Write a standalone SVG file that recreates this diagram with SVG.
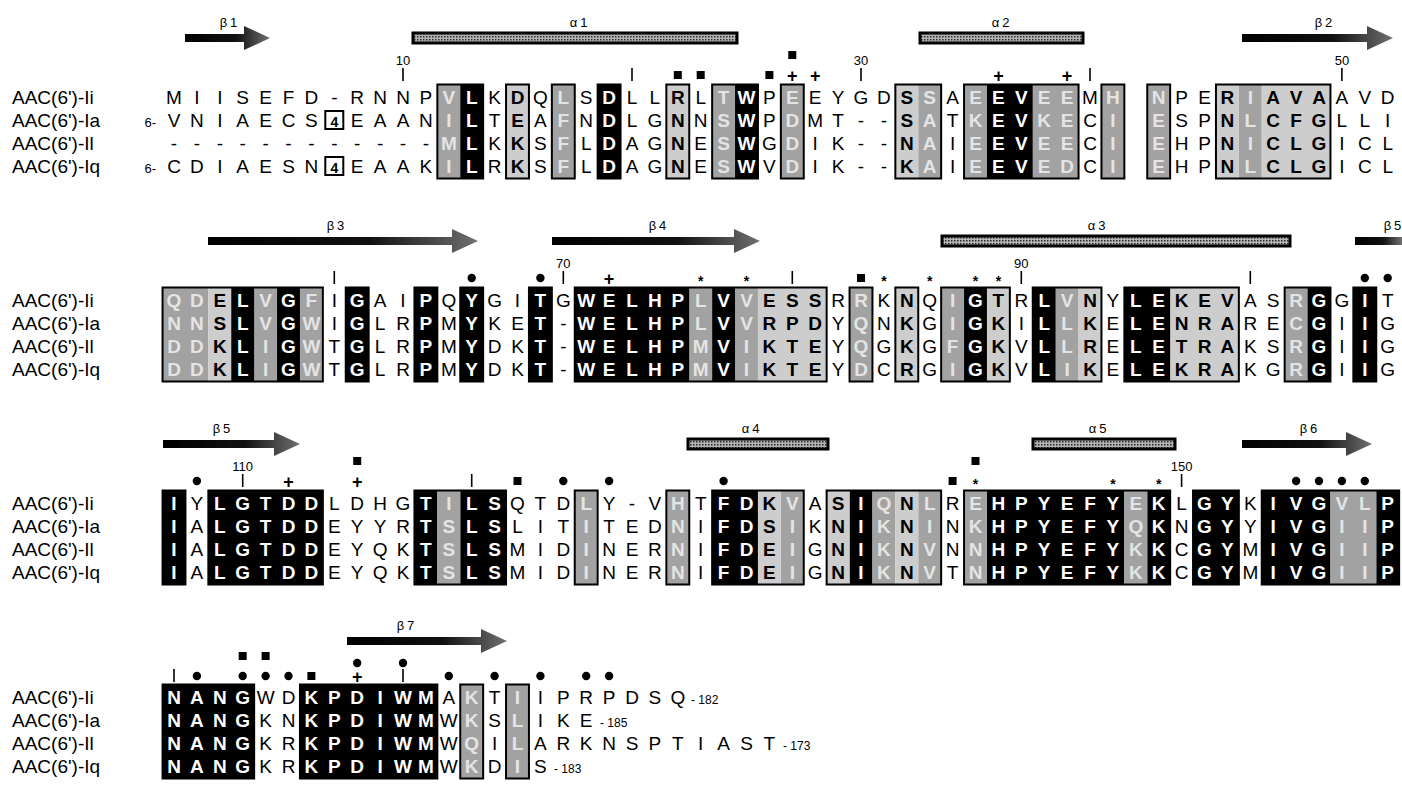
<svg xmlns="http://www.w3.org/2000/svg" width="1402" height="787" viewBox="0 0 1402 787">
<defs>
<linearGradient id="ag" x1="0" y1="0" x2="1" y2="0"><stop offset="0" stop-color="#000"/><stop offset="0.6" stop-color="#111"/><stop offset="1" stop-color="#707070"/></linearGradient>
<pattern id="hx" width="3" height="3" patternUnits="userSpaceOnUse"><rect width="3" height="3" fill="#b4b4b4"/><rect width="1.5" height="1.5" fill="#2a2a2a"/></pattern>
</defs>
<style>
text{font-family:"Liberation Sans",Arial,Helvetica,sans-serif;fill:#000}
.lab{font-size:19px}
.r{font-size:19px;text-anchor:middle}
.b{font-weight:bold}
.w{font-weight:bold;fill:#fff}
.f{font-weight:bold;fill:#e4e4e4}
.n4{font-weight:bold;font-size:14px}
.k{fill:#000}
.l{fill:#cdcdcd}
.d{fill:#a2a2a2}
.o{fill:none;stroke:#000;stroke-width:2}
.bx{fill:#fff;stroke:#000;stroke-width:2}
.ss{font-size:13px;text-anchor:middle;letter-spacing:3px}
.num{font-size:13px;text-anchor:middle}
.tk{stroke:#000;stroke-width:1.6}
.hx{fill:url(#hx);stroke:#000;stroke-width:3}
.ar{fill:url(#ag)}
.pl{font-size:18px;font-weight:bold;text-anchor:middle}
.st{font-size:14px;font-weight:bold;text-anchor:middle}
.end{font-size:12px}
.sm{font-size:13px;text-anchor:end}
</style>
<rect width="1402" height="787" fill="#fff"/>

<g id="block1">
<g id="b1-ss">
<path class="ar" d="M185 34 L244 34 L244 26 L270 38 L244 50 L244 42 L185 42 Z"/>
<rect class="hx" x="413" y="33" width="324" height="10"/>
<rect class="hx" x="920" y="33" width="163" height="10"/>
<path class="ar" d="M1242 34 L1367 34 L1367 26 L1393 38 L1367 50 L1367 42 L1242 42 Z"/>
<text class="ss" x="230" y="27">β1</text>
<text class="ss" x="580" y="27">α1</text>
<text class="ss" x="1002" y="27">α2</text>
<text class="ss" x="1325" y="27">β2</text>
</g>
<g id="b1-boxes">
<rect class="d" x="437.35" y="84.5" width="22.9" height="94"/>
<rect class="d" x="551.85" y="84.5" width="22.9" height="94"/>
<rect class="d" x="712.15" y="84.5" width="22.9" height="94"/>
<rect class="d" x="780.85" y="84.5" width="22.9" height="94"/>
<rect class="d" x="918.25" y="84.5" width="22.9" height="94"/>
<rect class="d" x="964.05" y="84.5" width="22.9" height="94"/>
<rect class="d" x="1032.75" y="84.5" width="45.8" height="94"/>
<rect class="d" x="1101.45" y="84.5" width="22.9" height="94"/>
<rect class="d" x="1147.25" y="84.5" width="22.9" height="94"/>
<rect class="d" x="1238.85" y="84.5" width="22.9" height="94"/>
<rect class="l" x="506.05" y="84.5" width="22.9" height="94"/>
<rect class="l" x="666.35" y="84.5" width="22.9" height="94"/>
<rect class="l" x="895.35" y="84.5" width="22.9" height="94"/>
<rect class="l" x="1215.95" y="84.5" width="22.9" height="94"/>
<rect class="l" x="1261.75" y="84.5" width="68.7" height="94"/>
<rect class="k" x="460.25" y="84.5" width="22.9" height="94"/>
<rect class="k" x="597.65" y="84.5" width="22.9" height="94"/>
<rect class="k" x="735.05" y="84.5" width="22.9" height="94"/>
<rect class="k" x="986.95" y="84.5" width="45.8" height="94"/>
<rect class="o" x="437.35" y="84.5" width="45.8" height="94"/>
<rect class="o" x="506.05" y="84.5" width="22.9" height="94"/>
<rect class="o" x="551.85" y="84.5" width="22.9" height="94"/>
<rect class="o" x="597.65" y="84.5" width="22.9" height="94"/>
<rect class="o" x="666.35" y="84.5" width="22.9" height="94"/>
<rect class="o" x="712.15" y="84.5" width="45.8" height="94"/>
<rect class="o" x="780.85" y="84.5" width="22.9" height="94"/>
<rect class="o" x="895.35" y="84.5" width="45.8" height="94"/>
<rect class="o" x="964.05" y="84.5" width="114.5" height="94"/>
<rect class="o" x="1101.45" y="84.5" width="22.9" height="94"/>
<rect class="o" x="1147.25" y="84.5" width="22.9" height="94"/>
<rect class="o" x="1215.95" y="84.5" width="114.5" height="94"/>
<rect class="bx" x="325.3" y="111" width="18" height="18"/>
<rect class="bx" x="325.3" y="157" width="18" height="18"/>
</g>
<g id="b1-marks">
<text class="num" x="403" y="65">10</text>
<text class="num" x="861" y="65">30</text>
<text class="num" x="1341.9" y="65">50</text>
<line class="tk" x1="403" y1="68" x2="403" y2="81"/>
<line class="tk" x1="632" y1="68" x2="632" y2="81"/>
<line class="tk" x1="861" y1="68" x2="861" y2="81"/>
<line class="tk" x1="1090" y1="68" x2="1090" y2="81"/>
<line class="tk" x1="1341.9" y1="68" x2="1341.9" y2="81"/>
<rect x="673.8" y="71" width="8" height="8"/>
<rect x="696.7" y="71" width="8" height="8"/>
<rect x="765.4" y="71" width="8" height="8"/>
<rect x="788.3" y="51" width="8" height="8"/>
<text class="pl" x="792.3" y="81.5">+</text>
<text class="pl" x="815.2" y="81.5">+</text>
<text class="pl" x="998.4" y="81.5">+</text>
<text class="pl" x="1067.1" y="81.5">+</text>
</g>
<g id="b1-seq">
<text class="lab" x="12" y="103.8">AAC(6')-Ii</text>
<text class="lab" x="12" y="126.8">AAC(6')-Ia</text>
<text class="lab" x="12" y="149.8">AAC(6')-Il</text>
<text class="lab" x="12" y="172.8">AAC(6')-Iq</text>
<text class="sm" x="156" y="126.8">6-</text>
<text class="sm" x="156" y="172.8">6-</text>
<text class="r" y="103.8" x="174 196.9 219.8 242.7 265.6 288.5 311.4 334.3 357.2 380.1 403 425.9 448.8 471.7 494.6 517.5 540.4 563.3 586.2 609.1 632 654.9 677.8 700.7 723.6 746.5 769.4 792.3 815.2 838.1 861 883.9 906.8 929.7 952.6 975.5 998.4 1021.3 1044.2 1067.1 1090 1112.9 1158.7 1181.6 1204.5 1227.4 1250.3 1273.2 1296.1 1319 1341.9 1364.8 1387.7">MIISEFD-RNNP<tspan class="f">V</tspan><tspan class="w">L</tspan>K<tspan class="b">D</tspan>Q<tspan class="f">L</tspan>S<tspan class="w">D</tspan>LL<tspan class="b">R</tspan>L<tspan class="f">T</tspan><tspan class="w">W</tspan>P<tspan class="f">E</tspan>EYGD<tspan class="b">S</tspan><tspan class="f">S</tspan>A<tspan class="f">E</tspan><tspan class="w">EV</tspan><tspan class="f">EE</tspan>M<tspan class="f">HN</tspan>PE<tspan class="b">R</tspan><tspan class="f">I</tspan><tspan class="b">AVA</tspan>AVD</text>
<text class="r" y="126.8" x="174 196.9 219.8 242.7 265.6 288.5 311.4 334.3 357.2 380.1 403 425.9 448.8 471.7 494.6 517.5 540.4 563.3 586.2 609.1 632 654.9 677.8 700.7 723.6 746.5 769.4 792.3 815.2 838.1 861 883.9 906.8 929.7 952.6 975.5 998.4 1021.3 1044.2 1067.1 1090 1112.9 1158.7 1181.6 1204.5 1227.4 1250.3 1273.2 1296.1 1319 1341.9 1364.8 1387.7">VNIAECS<tspan class="n4">4</tspan>EAAN<tspan class="f">I</tspan><tspan class="w">L</tspan>T<tspan class="b">E</tspan>A<tspan class="f">F</tspan>N<tspan class="w">D</tspan>LG<tspan class="b">N</tspan>N<tspan class="f">S</tspan><tspan class="w">W</tspan>P<tspan class="f">D</tspan>MT--<tspan class="b">S</tspan><tspan class="f">A</tspan>T<tspan class="f">K</tspan><tspan class="w">EV</tspan><tspan class="f">KE</tspan>C<tspan class="f">IE</tspan>SP<tspan class="b">N</tspan><tspan class="f">L</tspan><tspan class="b">CFG</tspan>LLI</text>
<text class="r" y="149.8" x="174 196.9 219.8 242.7 265.6 288.5 311.4 334.3 357.2 380.1 403 425.9 448.8 471.7 494.6 517.5 540.4 563.3 586.2 609.1 632 654.9 677.8 700.7 723.6 746.5 769.4 792.3 815.2 838.1 861 883.9 906.8 929.7 952.6 975.5 998.4 1021.3 1044.2 1067.1 1090 1112.9 1158.7 1181.6 1204.5 1227.4 1250.3 1273.2 1296.1 1319 1341.9 1364.8 1387.7">------------<tspan class="f">M</tspan><tspan class="w">L</tspan>K<tspan class="b">K</tspan>S<tspan class="f">F</tspan>L<tspan class="w">D</tspan>AG<tspan class="b">N</tspan>E<tspan class="f">S</tspan><tspan class="w">W</tspan>G<tspan class="f">D</tspan>IK--<tspan class="b">N</tspan><tspan class="f">A</tspan>I<tspan class="f">E</tspan><tspan class="w">EV</tspan><tspan class="f">EE</tspan>C<tspan class="f">IE</tspan>HP<tspan class="b">N</tspan><tspan class="f">I</tspan><tspan class="b">CLG</tspan>ICL</text>
<text class="r" y="172.8" x="174 196.9 219.8 242.7 265.6 288.5 311.4 334.3 357.2 380.1 403 425.9 448.8 471.7 494.6 517.5 540.4 563.3 586.2 609.1 632 654.9 677.8 700.7 723.6 746.5 769.4 792.3 815.2 838.1 861 883.9 906.8 929.7 952.6 975.5 998.4 1021.3 1044.2 1067.1 1090 1112.9 1158.7 1181.6 1204.5 1227.4 1250.3 1273.2 1296.1 1319 1341.9 1364.8 1387.7">CDIAESN<tspan class="n4">4</tspan>EAAK<tspan class="f">I</tspan><tspan class="w">L</tspan>R<tspan class="b">K</tspan>S<tspan class="f">F</tspan>L<tspan class="w">D</tspan>AG<tspan class="b">N</tspan>E<tspan class="f">S</tspan><tspan class="w">W</tspan>V<tspan class="f">D</tspan>IK--<tspan class="b">K</tspan><tspan class="f">A</tspan>I<tspan class="f">E</tspan><tspan class="w">EV</tspan><tspan class="f">ED</tspan>C<tspan class="f">IE</tspan>HP<tspan class="b">N</tspan><tspan class="f">L</tspan><tspan class="b">CLG</tspan>ICL</text>
</g>
</g>

<g id="block2">
<g id="b2-ss">
<path class="ar" d="M208 237 L452 237 L452 229 L478 241 L452 253 L452 245 L208 245 Z"/>
<path class="ar" d="M552 237 L734 237 L734 229 L760 241 L734 253 L734 245 L552 245 Z"/>
<rect class="hx" x="942" y="236" width="348" height="10"/>
<rect class="ar" x="1355" y="237" width="47" height="8"/>
<text class="ss" x="337" y="230">β3</text>
<text class="ss" x="659" y="230">β4</text>
<text class="ss" x="1098" y="230">α3</text>
<text class="ss" x="1394" y="230">β5</text>
</g>
<g id="b2-boxes">
<rect class="d" x="162.55" y="287.5" width="45.8" height="94"/>
<rect class="d" x="254.15" y="287.5" width="22.9" height="94"/>
<rect class="d" x="299.95" y="287.5" width="22.9" height="94"/>
<rect class="d" x="689.25" y="287.5" width="22.9" height="94"/>
<rect class="d" x="735.05" y="287.5" width="22.9" height="94"/>
<rect class="d" x="849.55" y="287.5" width="22.9" height="94"/>
<rect class="d" x="941.15" y="287.5" width="22.9" height="94"/>
<rect class="d" x="1055.65" y="287.5" width="22.9" height="94"/>
<rect class="d" x="1284.65" y="287.5" width="22.9" height="94"/>
<rect class="l" x="208.35" y="287.5" width="22.9" height="94"/>
<rect class="l" x="757.95" y="287.5" width="68.7" height="94"/>
<rect class="l" x="895.35" y="287.5" width="22.9" height="94"/>
<rect class="l" x="986.95" y="287.5" width="22.9" height="94"/>
<rect class="l" x="1078.55" y="287.5" width="22.9" height="94"/>
<rect class="l" x="1170.15" y="287.5" width="68.7" height="94"/>
<rect class="k" x="231.25" y="287.5" width="22.9" height="94"/>
<rect class="k" x="277.05" y="287.5" width="22.9" height="94"/>
<rect class="k" x="345.75" y="287.5" width="22.9" height="94"/>
<rect class="k" x="414.45" y="287.5" width="22.9" height="94"/>
<rect class="k" x="460.25" y="287.5" width="22.9" height="94"/>
<rect class="k" x="528.95" y="287.5" width="22.9" height="94"/>
<rect class="k" x="574.75" y="287.5" width="114.5" height="94"/>
<rect class="k" x="712.15" y="287.5" width="22.9" height="94"/>
<rect class="k" x="964.05" y="287.5" width="22.9" height="94"/>
<rect class="k" x="1032.75" y="287.5" width="22.9" height="94"/>
<rect class="k" x="1124.35" y="287.5" width="45.8" height="94"/>
<rect class="k" x="1307.55" y="287.5" width="22.9" height="94"/>
<rect class="k" x="1353.35" y="287.5" width="22.9" height="94"/>
<rect class="o" x="162.55" y="287.5" width="160.3" height="94"/>
<rect class="o" x="345.75" y="287.5" width="22.9" height="94"/>
<rect class="o" x="414.45" y="287.5" width="22.9" height="94"/>
<rect class="o" x="460.25" y="287.5" width="22.9" height="94"/>
<rect class="o" x="528.95" y="287.5" width="22.9" height="94"/>
<rect class="o" x="574.75" y="287.5" width="251.9" height="94"/>
<rect class="o" x="849.55" y="287.5" width="22.9" height="94"/>
<rect class="o" x="895.35" y="287.5" width="22.9" height="94"/>
<rect class="o" x="941.15" y="287.5" width="68.7" height="94"/>
<rect class="o" x="1032.75" y="287.5" width="68.7" height="94"/>
<rect class="o" x="1124.35" y="287.5" width="114.5" height="94"/>
<rect class="o" x="1284.65" y="287.5" width="45.8" height="94"/>
<rect class="o" x="1353.35" y="287.5" width="22.9" height="94"/>
</g>
<g id="b2-marks">
<text class="num" x="563.3" y="268">70</text>
<text class="num" x="1021.3" y="268">90</text>
<line class="tk" x1="334.3" y1="271" x2="334.3" y2="284"/>
<line class="tk" x1="563.3" y1="271" x2="563.3" y2="284"/>
<line class="tk" x1="792.3" y1="271" x2="792.3" y2="284"/>
<line class="tk" x1="1021.3" y1="271" x2="1021.3" y2="284"/>
<line class="tk" x1="1250.3" y1="271" x2="1250.3" y2="284"/>
<circle cx="471.7" cy="278" r="4.2"/>
<circle cx="540.4" cy="278" r="4.2"/>
<circle cx="1364.8" cy="278" r="4.2"/>
<circle cx="1387.7" cy="278" r="4.2"/>
<text class="pl" x="609.1" y="284.5">+</text>
<text class="st" x="700.7" y="286">*</text>
<text class="st" x="746.5" y="286">*</text>
<text class="st" x="883.9" y="286">*</text>
<text class="st" x="929.7" y="286">*</text>
<text class="st" x="975.5" y="286">*</text>
<text class="st" x="998.4" y="286">*</text>
<rect x="857" y="274" width="8" height="8"/>
</g>
<g id="b2-seq">
<text class="lab" x="12" y="306.8">AAC(6')-Ii</text>
<text class="lab" x="12" y="329.8">AAC(6')-Ia</text>
<text class="lab" x="12" y="352.8">AAC(6')-Il</text>
<text class="lab" x="12" y="375.8">AAC(6')-Iq</text>
<text class="r" y="306.8" x="174 196.9 219.8 242.7 265.6 288.5 311.4 334.3 357.2 380.1 403 425.9 448.8 471.7 494.6 517.5 540.4 563.3 586.2 609.1 632 654.9 677.8 700.7 723.6 746.5 769.4 792.3 815.2 838.1 861 883.9 906.8 929.7 952.6 975.5 998.4 1021.3 1044.2 1067.1 1090 1112.9 1135.8 1158.7 1181.6 1204.5 1227.4 1250.3 1273.2 1296.1 1319 1341.9 1364.8 1387.7"><tspan class="f">QD</tspan><tspan class="b">E</tspan><tspan class="w">L</tspan><tspan class="f">V</tspan><tspan class="w">G</tspan><tspan class="f">F</tspan>I<tspan class="w">G</tspan>AI<tspan class="w">P</tspan>Q<tspan class="w">Y</tspan>GI<tspan class="w">T</tspan>G<tspan class="w">WELHP</tspan><tspan class="f">L</tspan><tspan class="w">V</tspan><tspan class="f">V</tspan><tspan class="b">ESS</tspan>R<tspan class="f">R</tspan>K<tspan class="b">N</tspan>Q<tspan class="f">I</tspan><tspan class="w">G</tspan><tspan class="b">T</tspan>R<tspan class="w">L</tspan><tspan class="f">V</tspan><tspan class="b">N</tspan>Y<tspan class="w">LE</tspan><tspan class="b">KEV</tspan>AS<tspan class="f">R</tspan><tspan class="w">G</tspan>G<tspan class="w">I</tspan>T</text>
<text class="r" y="329.8" x="174 196.9 219.8 242.7 265.6 288.5 311.4 334.3 357.2 380.1 403 425.9 448.8 471.7 494.6 517.5 540.4 563.3 586.2 609.1 632 654.9 677.8 700.7 723.6 746.5 769.4 792.3 815.2 838.1 861 883.9 906.8 929.7 952.6 975.5 998.4 1021.3 1044.2 1067.1 1090 1112.9 1135.8 1158.7 1181.6 1204.5 1227.4 1250.3 1273.2 1296.1 1319 1341.9 1364.8 1387.7"><tspan class="f">NN</tspan><tspan class="b">S</tspan><tspan class="w">L</tspan><tspan class="f">V</tspan><tspan class="w">G</tspan><tspan class="f">W</tspan>I<tspan class="w">G</tspan>LR<tspan class="w">P</tspan>M<tspan class="w">Y</tspan>KE<tspan class="w">T</tspan>-<tspan class="w">WELHP</tspan><tspan class="f">L</tspan><tspan class="w">V</tspan><tspan class="f">V</tspan><tspan class="b">RPD</tspan>Y<tspan class="f">Q</tspan>N<tspan class="b">K</tspan>G<tspan class="f">I</tspan><tspan class="w">G</tspan><tspan class="b">K</tspan>I<tspan class="w">L</tspan><tspan class="f">L</tspan><tspan class="b">K</tspan>E<tspan class="w">LE</tspan><tspan class="b">NRA</tspan>RE<tspan class="f">C</tspan><tspan class="w">G</tspan>I<tspan class="w">I</tspan>G</text>
<text class="r" y="352.8" x="174 196.9 219.8 242.7 265.6 288.5 311.4 334.3 357.2 380.1 403 425.9 448.8 471.7 494.6 517.5 540.4 563.3 586.2 609.1 632 654.9 677.8 700.7 723.6 746.5 769.4 792.3 815.2 838.1 861 883.9 906.8 929.7 952.6 975.5 998.4 1021.3 1044.2 1067.1 1090 1112.9 1135.8 1158.7 1181.6 1204.5 1227.4 1250.3 1273.2 1296.1 1319 1341.9 1364.8 1387.7"><tspan class="f">DD</tspan><tspan class="b">K</tspan><tspan class="w">L</tspan><tspan class="f">I</tspan><tspan class="w">G</tspan><tspan class="f">W</tspan>T<tspan class="w">G</tspan>LR<tspan class="w">P</tspan>M<tspan class="w">Y</tspan>DK<tspan class="w">T</tspan>-<tspan class="w">WELHP</tspan><tspan class="f">M</tspan><tspan class="w">V</tspan><tspan class="f">I</tspan><tspan class="b">KTE</tspan>Y<tspan class="f">Q</tspan>G<tspan class="b">K</tspan>G<tspan class="f">F</tspan><tspan class="w">G</tspan><tspan class="b">K</tspan>V<tspan class="w">L</tspan><tspan class="f">L</tspan><tspan class="b">R</tspan>E<tspan class="w">LE</tspan><tspan class="b">TRA</tspan>KS<tspan class="f">R</tspan><tspan class="w">G</tspan>I<tspan class="w">I</tspan>G</text>
<text class="r" y="375.8" x="174 196.9 219.8 242.7 265.6 288.5 311.4 334.3 357.2 380.1 403 425.9 448.8 471.7 494.6 517.5 540.4 563.3 586.2 609.1 632 654.9 677.8 700.7 723.6 746.5 769.4 792.3 815.2 838.1 861 883.9 906.8 929.7 952.6 975.5 998.4 1021.3 1044.2 1067.1 1090 1112.9 1135.8 1158.7 1181.6 1204.5 1227.4 1250.3 1273.2 1296.1 1319 1341.9 1364.8 1387.7"><tspan class="f">DD</tspan><tspan class="b">K</tspan><tspan class="w">L</tspan><tspan class="f">I</tspan><tspan class="w">G</tspan><tspan class="f">W</tspan>T<tspan class="w">G</tspan>LR<tspan class="w">P</tspan>M<tspan class="w">Y</tspan>DK<tspan class="w">T</tspan>-<tspan class="w">WELHP</tspan><tspan class="f">M</tspan><tspan class="w">V</tspan><tspan class="f">I</tspan><tspan class="b">KTE</tspan>Y<tspan class="f">D</tspan>C<tspan class="b">R</tspan>G<tspan class="f">I</tspan><tspan class="w">G</tspan><tspan class="b">K</tspan>V<tspan class="w">L</tspan><tspan class="f">I</tspan><tspan class="b">K</tspan>E<tspan class="w">LE</tspan><tspan class="b">KRA</tspan>KG<tspan class="f">R</tspan><tspan class="w">G</tspan>I<tspan class="w">I</tspan>G</text>
</g>
</g>

<g id="block3">
<g id="b3-ss">
<path class="ar" d="M163 440 L274 440 L274 432 L300 444 L274 456 L274 448 L163 448 Z"/>
<rect class="hx" x="688" y="439" width="140" height="10"/>
<rect class="hx" x="1033" y="439" width="142" height="10"/>
<path class="ar" d="M1242 440 L1346 440 L1346 432 L1372 444 L1346 456 L1346 448 L1242 448 Z"/>
<text class="ss" x="223" y="433">β5</text>
<text class="ss" x="752" y="433">α4</text>
<text class="ss" x="1099" y="433">α5</text>
<text class="ss" x="1310" y="433">β6</text>
</g>
<g id="b3-boxes">
<rect class="k" x="162.55" y="490.5" width="22.9" height="94"/>
<rect class="k" x="208.35" y="490.5" width="114.5" height="94"/>
<rect class="k" x="414.45" y="490.5" width="22.9" height="94"/>
<rect class="k" x="460.25" y="490.5" width="45.8" height="94"/>
<rect class="k" x="712.15" y="490.5" width="45.8" height="94"/>
<rect class="k" x="849.55" y="490.5" width="22.9" height="94"/>
<rect class="k" x="986.95" y="490.5" width="137.4" height="94"/>
<rect class="k" x="1147.25" y="490.5" width="22.9" height="94"/>
<rect class="k" x="1193.05" y="490.5" width="45.8" height="94"/>
<rect class="k" x="1261.75" y="490.5" width="68.7" height="94"/>
<rect class="k" x="1376.25" y="490.5" width="22.9" height="94"/>
<rect class="d" x="437.35" y="490.5" width="22.9" height="94"/>
<rect class="d" x="574.75" y="490.5" width="22.9" height="94"/>
<rect class="d" x="666.35" y="490.5" width="22.9" height="94"/>
<rect class="d" x="780.85" y="490.5" width="22.9" height="94"/>
<rect class="d" x="872.45" y="490.5" width="22.9" height="94"/>
<rect class="d" x="918.25" y="490.5" width="22.9" height="94"/>
<rect class="d" x="964.05" y="490.5" width="22.9" height="94"/>
<rect class="d" x="1124.35" y="490.5" width="22.9" height="94"/>
<rect class="d" x="1330.45" y="490.5" width="45.8" height="94"/>
<rect class="l" x="757.95" y="490.5" width="22.9" height="94"/>
<rect class="l" x="826.65" y="490.5" width="22.9" height="94"/>
<rect class="l" x="895.35" y="490.5" width="22.9" height="94"/>
<rect class="o" x="162.55" y="490.5" width="22.9" height="94"/>
<rect class="o" x="208.35" y="490.5" width="114.5" height="94"/>
<rect class="o" x="414.45" y="490.5" width="91.6" height="94"/>
<rect class="o" x="574.75" y="490.5" width="22.9" height="94"/>
<rect class="o" x="666.35" y="490.5" width="22.9" height="94"/>
<rect class="o" x="712.15" y="490.5" width="91.6" height="94"/>
<rect class="o" x="826.65" y="490.5" width="114.5" height="94"/>
<rect class="o" x="964.05" y="490.5" width="206.1" height="94"/>
<rect class="o" x="1193.05" y="490.5" width="45.8" height="94"/>
<rect class="o" x="1261.75" y="490.5" width="137.4" height="94"/>
</g>
<g id="b3-marks">
<text class="num" x="242.7" y="471">110</text>
<text class="num" x="1181.6" y="471">150</text>
<line class="tk" x1="242.7" y1="474" x2="242.7" y2="487"/>
<line class="tk" x1="471.7" y1="474" x2="471.7" y2="487"/>
<line class="tk" x1="1181.6" y1="474" x2="1181.6" y2="487"/>
<circle cx="196.9" cy="481" r="4.2"/>
<circle cx="563.3" cy="481" r="4.2"/>
<circle cx="609.1" cy="481" r="4.2"/>
<circle cx="723.6" cy="481" r="4.2"/>
<circle cx="1296.1" cy="481" r="4.2"/>
<circle cx="1319" cy="481" r="4.2"/>
<circle cx="1341.9" cy="481" r="4.2"/>
<circle cx="1364.8" cy="481" r="4.2"/>
<text class="pl" x="288.5" y="487.5">+</text>
<text class="pl" x="357.2" y="487.5">+</text>
<rect x="513.5" y="477" width="8" height="8"/>
<rect x="948.6" y="477" width="8" height="8"/>
<rect x="353.2" y="457" width="8" height="8"/>
<rect x="971.5" y="457" width="8" height="8"/>
<text class="st" x="975.5" y="489">*</text>
<text class="st" x="1112.9" y="489">*</text>
<text class="st" x="1158.7" y="489">*</text>
</g>
<g id="b3-seq">
<text class="lab" x="12" y="509.8">AAC(6')-Ii</text>
<text class="lab" x="12" y="532.8">AAC(6')-Ia</text>
<text class="lab" x="12" y="555.8">AAC(6')-Il</text>
<text class="lab" x="12" y="578.8">AAC(6')-Iq</text>
<text class="r" y="509.8" x="174 196.9 219.8 242.7 265.6 288.5 311.4 334.3 357.2 380.1 403 425.9 448.8 471.7 494.6 517.5 540.4 563.3 586.2 609.1 632 654.9 677.8 700.7 723.6 746.5 769.4 792.3 815.2 838.1 861 883.9 906.8 929.7 952.6 975.5 998.4 1021.3 1044.2 1067.1 1090 1112.9 1135.8 1158.7 1181.6 1204.5 1227.4 1250.3 1273.2 1296.1 1319 1341.9 1364.8 1387.7"><tspan class="w">I</tspan>Y<tspan class="w">LGTDD</tspan>LDHG<tspan class="w">T</tspan><tspan class="f">I</tspan><tspan class="w">LS</tspan>QTD<tspan class="f">L</tspan>Y-V<tspan class="f">H</tspan>T<tspan class="w">FD</tspan><tspan class="b">K</tspan><tspan class="f">V</tspan>A<tspan class="b">S</tspan><tspan class="w">I</tspan><tspan class="f">Q</tspan><tspan class="b">N</tspan><tspan class="f">L</tspan>R<tspan class="f">E</tspan><tspan class="w">HPYEFY</tspan><tspan class="f">E</tspan><tspan class="w">K</tspan>L<tspan class="w">GY</tspan>K<tspan class="w">IVG</tspan><tspan class="f">VL</tspan><tspan class="w">P</tspan></text>
<text class="r" y="532.8" x="174 196.9 219.8 242.7 265.6 288.5 311.4 334.3 357.2 380.1 403 425.9 448.8 471.7 494.6 517.5 540.4 563.3 586.2 609.1 632 654.9 677.8 700.7 723.6 746.5 769.4 792.3 815.2 838.1 861 883.9 906.8 929.7 952.6 975.5 998.4 1021.3 1044.2 1067.1 1090 1112.9 1135.8 1158.7 1181.6 1204.5 1227.4 1250.3 1273.2 1296.1 1319 1341.9 1364.8 1387.7"><tspan class="w">I</tspan>A<tspan class="w">LGTDD</tspan>EYYR<tspan class="w">T</tspan><tspan class="f">S</tspan><tspan class="w">LS</tspan>LIT<tspan class="f">I</tspan>TED<tspan class="f">N</tspan>I<tspan class="w">FD</tspan><tspan class="b">S</tspan><tspan class="f">I</tspan>K<tspan class="b">N</tspan><tspan class="w">I</tspan><tspan class="f">K</tspan><tspan class="b">N</tspan><tspan class="f">I</tspan>N<tspan class="f">K</tspan><tspan class="w">HPYEFY</tspan><tspan class="f">Q</tspan><tspan class="w">K</tspan>N<tspan class="w">GY</tspan>Y<tspan class="w">IVG</tspan><tspan class="f">II</tspan><tspan class="w">P</tspan></text>
<text class="r" y="555.8" x="174 196.9 219.8 242.7 265.6 288.5 311.4 334.3 357.2 380.1 403 425.9 448.8 471.7 494.6 517.5 540.4 563.3 586.2 609.1 632 654.9 677.8 700.7 723.6 746.5 769.4 792.3 815.2 838.1 861 883.9 906.8 929.7 952.6 975.5 998.4 1021.3 1044.2 1067.1 1090 1112.9 1135.8 1158.7 1181.6 1204.5 1227.4 1250.3 1273.2 1296.1 1319 1341.9 1364.8 1387.7"><tspan class="w">I</tspan>A<tspan class="w">LGTDD</tspan>EYQK<tspan class="w">T</tspan><tspan class="f">S</tspan><tspan class="w">LS</tspan>MID<tspan class="f">I</tspan>NER<tspan class="f">N</tspan>I<tspan class="w">FD</tspan><tspan class="b">E</tspan><tspan class="f">I</tspan>G<tspan class="b">N</tspan><tspan class="w">I</tspan><tspan class="f">K</tspan><tspan class="b">N</tspan><tspan class="f">V</tspan>N<tspan class="f">N</tspan><tspan class="w">HPYEFY</tspan><tspan class="f">K</tspan><tspan class="w">K</tspan>C<tspan class="w">GY</tspan>M<tspan class="w">IVG</tspan><tspan class="f">II</tspan><tspan class="w">P</tspan></text>
<text class="r" y="578.8" x="174 196.9 219.8 242.7 265.6 288.5 311.4 334.3 357.2 380.1 403 425.9 448.8 471.7 494.6 517.5 540.4 563.3 586.2 609.1 632 654.9 677.8 700.7 723.6 746.5 769.4 792.3 815.2 838.1 861 883.9 906.8 929.7 952.6 975.5 998.4 1021.3 1044.2 1067.1 1090 1112.9 1135.8 1158.7 1181.6 1204.5 1227.4 1250.3 1273.2 1296.1 1319 1341.9 1364.8 1387.7"><tspan class="w">I</tspan>A<tspan class="w">LGTDD</tspan>EYQK<tspan class="w">T</tspan><tspan class="f">S</tspan><tspan class="w">LS</tspan>MID<tspan class="f">I</tspan>NER<tspan class="f">N</tspan>I<tspan class="w">FD</tspan><tspan class="b">E</tspan><tspan class="f">I</tspan>G<tspan class="b">N</tspan><tspan class="w">I</tspan><tspan class="f">K</tspan><tspan class="b">N</tspan><tspan class="f">V</tspan>T<tspan class="f">N</tspan><tspan class="w">HPYEFY</tspan><tspan class="f">K</tspan><tspan class="w">K</tspan>C<tspan class="w">GY</tspan>M<tspan class="w">IVG</tspan><tspan class="f">II</tspan><tspan class="w">P</tspan></text>
</g>
</g>

<g id="block4">
<g id="b4-ss">
<path class="ar" d="M347 637 L481 637 L481 629 L507 641 L481 653 L481 645 L347 645 Z"/>
<text class="ss" x="407" y="630">β7</text>
</g>
<g id="b4-boxes">
<rect class="k" x="162.55" y="684.5" width="91.6" height="94"/>
<rect class="k" x="299.95" y="684.5" width="137.4" height="94"/>
<rect class="d" x="460.25" y="684.5" width="22.9" height="94"/>
<rect class="d" x="506.05" y="684.5" width="22.9" height="94"/>
<rect class="o" x="162.55" y="684.5" width="91.6" height="94"/>
<rect class="o" x="299.95" y="684.5" width="137.4" height="94"/>
<rect class="o" x="460.25" y="684.5" width="22.9" height="94"/>
<rect class="o" x="506.05" y="684.5" width="22.9" height="94"/>
</g>
<g id="b4-marks">
<line class="tk" x1="174" y1="669" x2="174" y2="682"/>
<line class="tk" x1="403" y1="669" x2="403" y2="682"/>
<circle cx="196.9" cy="676" r="4.2"/>
<circle cx="242.7" cy="676" r="4.2"/>
<circle cx="265.6" cy="676" r="4.2"/>
<circle cx="288.5" cy="676" r="4.2"/>
<circle cx="448.8" cy="676" r="4.2"/>
<circle cx="494.6" cy="676" r="4.2"/>
<circle cx="540.4" cy="676" r="4.2"/>
<circle cx="586.2" cy="676" r="4.2"/>
<circle cx="609.1" cy="676" r="4.2"/>
<rect x="307.4" y="672" width="8" height="8"/>
<text class="pl" x="357.2" y="682.5">+</text>
<circle cx="357.2" cy="663" r="4.2"/>
<circle cx="403" cy="663" r="4.2"/>
<rect x="238.7" y="652" width="8" height="8"/>
<rect x="261.6" y="652" width="8" height="8"/>
</g>
<g id="b4-seq">
<text class="lab" x="12" y="703.8">AAC(6')-Ii</text>
<text class="lab" x="12" y="726.8">AAC(6')-Ia</text>
<text class="lab" x="12" y="749.8">AAC(6')-Il</text>
<text class="lab" x="12" y="772.8">AAC(6')-Iq</text>
<text class="r" y="703.8" x="174 196.9 219.8 242.7 265.6 288.5 311.4 334.3 357.2 380.1 403 425.9 448.8 471.7 494.6 517.5 540.4 563.3 586.2 609.1 632 654.9 677.8"><tspan class="w">NANG</tspan>WD<tspan class="w">KPDIWM</tspan>A<tspan class="f">K</tspan>T<tspan class="f">I</tspan>IPRPDSQ</text>
<text class="r" y="726.8" x="174 196.9 219.8 242.7 265.6 288.5 311.4 334.3 357.2 380.1 403 425.9 448.8 471.7 494.6 517.5 540.4 563.3 586.2"><tspan class="w">NANG</tspan>KN<tspan class="w">KPDIWM</tspan>W<tspan class="f">K</tspan>S<tspan class="f">L</tspan>IKE</text>
<text class="r" y="749.8" x="174 196.9 219.8 242.7 265.6 288.5 311.4 334.3 357.2 380.1 403 425.9 448.8 471.7 494.6 517.5 540.4 563.3 586.2 609.1 632 654.9 677.8 700.7 723.6 746.5 769.4"><tspan class="w">NANG</tspan>KR<tspan class="w">KPDIWM</tspan>W<tspan class="f">Q</tspan>I<tspan class="f">L</tspan>ARKNSPTIAST</text>
<text class="r" y="772.8" x="174 196.9 219.8 242.7 265.6 288.5 311.4 334.3 357.2 380.1 403 425.9 448.8 471.7 494.6 517.5 540.4"><tspan class="w">NANG</tspan>KR<tspan class="w">KPDIWM</tspan>W<tspan class="f">K</tspan>D<tspan class="f">I</tspan>S</text>
<text class="end" x="691" y="703.8">- 182</text>
<text class="end" x="600" y="726.8">- 185</text>
<text class="end" x="783" y="749.8">- 173</text>
<text class="end" x="554" y="772.8">- 183</text>
</g>
</g>
</svg>
